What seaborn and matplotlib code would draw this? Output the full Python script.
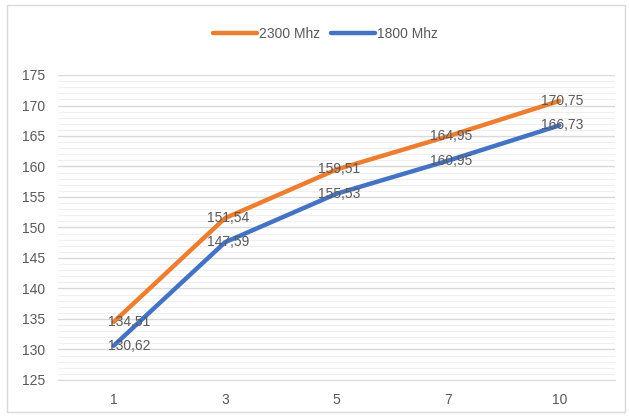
import pandas as pd
import seaborn as sns
import matplotlib.pyplot as plt
from matplotlib.ticker import MultipleLocator
from matplotlib.patches import Rectangle

categories = ["1", "3", "5", "7", "10"]
vals_2300 = [134.51, 151.54, 159.51, 164.95, 170.75]
vals_1800 = [130.62, 147.59, 155.53, 160.95, 166.73]
series_names = ["2300 Mhz", "1800 Mhz"]

sns.set_style("white")
plt.rcParams['font.family'] = ['Liberation Sans Narrow', 'Liberation Sans', 'DejaVu Sans']

df = pd.concat([
    pd.DataFrame({"x": categories, "y": vals_2300, "series": series_names[0]}),
    pd.DataFrame({"x": categories, "y": vals_1800, "series": series_names[1]}),
], ignore_index=True)

fig = plt.figure(figsize=(6.29, 4.17), dpi=100)
ax = fig.add_axes([58/629, 37/417, 557/629, 305/417])
fig.patches.append(Rectangle((7/629, 5/417), 618/629, 407/417, transform=fig.transFigure,
                             fill=False, edgecolor="#d9d9d9", linewidth=1))

palette = {"2300 Mhz": "#ED7D31", "1800 Mhz": "#4472C4"}
sns.lineplot(data=df, x="x", y="y", hue="series", palette=palette, linewidth=3.2,
             sort=False, ax=ax, zorder=3)

ax.set_ylim(125, 175)
ax.set_xlim(-0.5, 4.5)
ax.yaxis.set_major_locator(MultipleLocator(5))
ax.yaxis.set_minor_locator(MultipleLocator(1))
ax.grid(which="major", axis="y", color="#d9d9d9", linewidth=1)
ax.grid(which="minor", axis="y", color="#efefef", linewidth=0.8)
ax.set_axisbelow(True)
for s in ["top", "right", "left"]:
    ax.spines[s].set_visible(False)
ax.spines["bottom"].set_color("#d9d9d9")
ax.tick_params(axis="both", length=0, labelsize=10, labelcolor="#595959", pad=9)
ax.set_xlabel("")
ax.set_ylabel("")

# data labels
for vals in [vals_2300, vals_1800]:
    for i, v in enumerate(vals):
        dx = 11 if i == 0 else 2
        ax.annotate(f"{v:.2f}".replace(".", ","), (i, v), xytext=(dx, 0),
                    textcoords="offset points", ha="center", va="center",
                    fontsize=10, color="#595959", zorder=4)

ax.legend(loc="upper center", bbox_to_anchor=(0.48, 1.2), ncol=2, frameon=False,
          fontsize=10, handlelength=3.2, handletextpad=0.1, columnspacing=0.8,
          labelcolor="#595959")

fig.savefig("out.png", dpi=100)
